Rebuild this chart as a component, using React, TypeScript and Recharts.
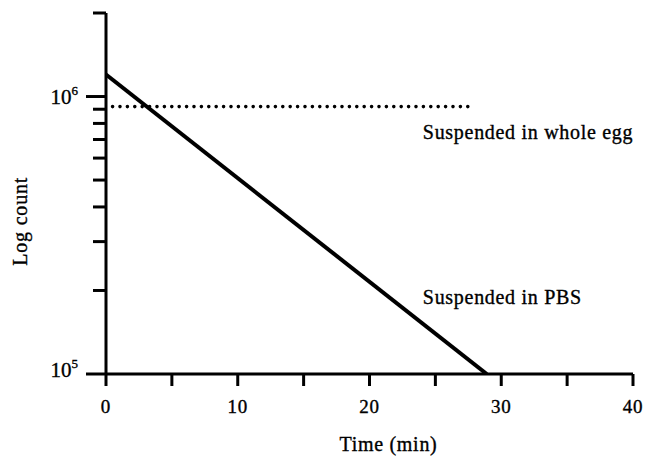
import React from 'react';
import { ComposedChart, Line, XAxis, YAxis, Label, ReferenceDot } from 'recharts';

// ---- data ----
const pbsTime = [0, 28.9];
const pbsCount = [1.2e6, 1e5];
const eggTime = [0.5, 27.5];
const eggCount = [9.2e5, 9.2e5];

const xTicks = [0, 5, 10, 15, 20, 25, 30, 35, 40];
const xLabelled = [0, 10, 20, 30, 40];
const yTicks = [1e5, 2e5, 3e5, 4e5, 5e5, 6e5, 7e5, 8e5, 9e5, 1e6, 2e6];
const yMajor = [1e5, 1e6];
const yMajorBase = ['10', '10'];
const yMajorExp = ['5', '6'];

const annotTime = [24.05, 24.05];
const annotCount = [7.05e5, 1.79e5];
const annotText = ['Suspended in whole egg', 'Suspended in PBS'];

const xTitle = 'Time (min)';
const yTitle = 'Log count';

const pbsData = pbsTime.map((t, i) => ({ t, v: pbsCount[i] }));
const eggData = eggTime.map((t, i) => ({ t, v: eggCount[i] }));

const FONT = "'Liberation Serif', 'Times New Roman', Times, serif";
const TXT = { fontFamily: FONT, fill: '#000', stroke: '#000', strokeWidth: 0.35 };

const YTick = (props: any) => {
  const { x, y, payload } = props;
  const idx = yMajor.indexOf(payload.value);
  const major = idx >= 0;
  const len = major ? 20 : 13;
  return (
    <g>
      <line x1={x - len} x2={x} y1={y} y2={y} stroke="#000" strokeWidth={3} />
      {major && (
        <text x={x - 28} y={y + (idx === 0 ? 3 : 7)} textAnchor="end" fontSize={21} {...TXT}>
          {yMajorBase[idx]}
          <tspan dy={-9} fontSize={13}>{yMajorExp[idx]}</tspan>
        </text>
      )}
    </g>
  );
};

const XTick = (props: any) => {
  const { x, y, payload } = props;
  const lab = xLabelled.includes(payload.value);
  return (
    <g>
      <line x1={x} x2={x} y1={y} y2={y + 12} stroke="#000" strokeWidth={3} />
      {lab && (
        <text x={x} y={y + 39} textAnchor="middle" fontSize={19} letterSpacing={0.8} {...TXT}>
          {payload.value}
        </text>
      )}
    </g>
  );
};

const XTitle = (props: any) => {
  const vb = props.viewBox;
  return (
    <text x={vb.x + vb.width * 0.536} y={vb.y + 77} textAnchor="middle" fontSize={20} letterSpacing={0.7} {...TXT}>
      {xTitle}
    </text>
  );
};

const YTitle = (props: any) => {
  const vb = props.viewBox;
  const cx = vb.x + 27;
  const cy = vb.y + vb.height * 0.577;
  return (
    <text
      x={cx}
      y={cy}
      transform={`rotate(-90, ${cx}, ${cy})`}
      textAnchor="middle"
      fontSize={20}
      letterSpacing={0.8}
      {...TXT}
    >
      {yTitle}
    </text>
  );
};

const makeAnnot = (text: string) => (props: any) => {
  const vb = props.viewBox;
  return (
    <text x={vb.x} y={vb.y} textAnchor="start" fontSize={20} letterSpacing={0.7} {...TXT}>
      {text}
    </text>
  );
};

export default function App() {
  return (
    <div style={{ position: 'absolute', left: 0, top: 0, width: 645, height: 459, background: '#fff' }}>
      <ComposedChart width={645} height={459} margin={{ top: 13, right: 12, bottom: 0, left: 0 }}>
        <XAxis
          type="number"
          dataKey="t"
          domain={[0, 40]}
          ticks={xTicks}
          allowDataOverflow
          height={85}
          tickSize={0}
          tickMargin={0}
          tickLine={false}
          axisLine={{ stroke: '#000', strokeWidth: 3 }}
          tick={<XTick />}
          interval={0}
        >
          <Label content={XTitle} />
        </XAxis>
        <YAxis
          type="number"
          dataKey="v"
          scale="log"
          domain={[1e5, 2e6]}
          ticks={yTicks}
          allowDataOverflow
          width={106}
          tickSize={0}
          tickMargin={0}
          tickLine={false}
          axisLine={{ stroke: '#000', strokeWidth: 3 }}
          tick={<YTick />}
          interval={0}
        >
          <Label content={YTitle} />
        </YAxis>
        <Line
          data={eggData}
          dataKey="v"
          type="linear"
          stroke="#000"
          strokeWidth={3.6}
          strokeDasharray="0 7.4"
          strokeLinecap="round"
          dot={false}
          activeDot={false}
          isAnimationActive={false}
        />
        <Line
          data={pbsData}
          dataKey="v"
          type="linear"
          stroke="#000"
          strokeWidth={4}
          dot={false}
          activeDot={false}
          isAnimationActive={false}
        />
        {annotText.map((txt, i) => (
          <ReferenceDot
            key={txt}
            x={annotTime[i]}
            y={annotCount[i]}
            r={0}
            fill="none"
            stroke="none"
            label={makeAnnot(txt)}
          />
        ))}
      </ComposedChart>
    </div>
  );
}
